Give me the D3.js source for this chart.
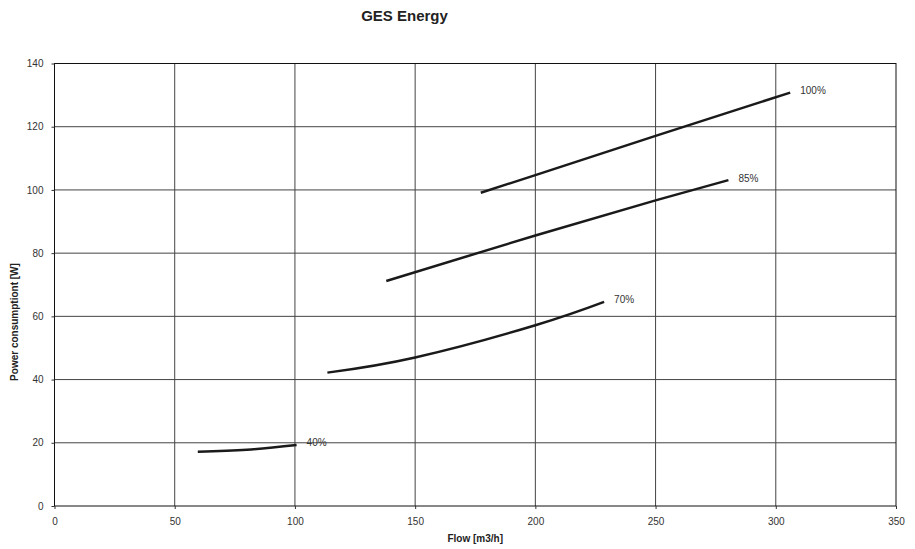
<!DOCTYPE html>
<html>
<head>
<meta charset="utf-8">
<script src="https://cdn.jsdelivr.net/npm/d3@7"></script>
<style>
  body { margin: 0; background: #fff; }
  svg { font-family: "Liberation Sans", Arial, sans-serif; }
</style>
</head>
<body>
<script>
// Data
const xTicks = [0, 50, 100, 150, 200, 250, 300, 350];
const yTicks = [0, 20, 40, 60, 80, 100, 120, 140];

const curve40 = [[59.6, 17.2], [80, 17.8], [100.7, 19.3]];
const curve70 = [[113.5, 42.2], [150, 47.0], [200, 57.2], [228.6, 64.6]];
const curve85 = [[138, 71.2], [200, 85.6], [250, 96.7], [280.3, 103.1]];
const curve100 = [[177.3, 99.1], [200, 104.7], [250, 117.1], [306, 130.8]];

const seriesNames = ["40%", "70%", "85%", "100%"];
const seriesData = [curve40, curve70, curve85, curve100];

// Set up dimensions
const W = 915, H = 549;
const margin = { top: 63.5, right: 19, bottom: 43, left: 54.5 };
const width = W - margin.left - margin.right;
const height = H - margin.top - margin.bottom;

const svg = d3.select("body")
  .append("svg")
  .attr("width", W)
  .attr("height", H);

const g = svg.append("g")
  .attr("transform", `translate(${margin.left},${margin.top})`);

const x = d3.scaleLinear().domain([0, 350]).range([0, width]);
const y = d3.scaleLinear().domain([0, 140]).range([height, 0]);

// Gridlines
g.append("g")
  .selectAll("line.v")
  .data(xTicks.slice(1, -1))
  .join("line")
  .attr("x1", d => x(d)).attr("x2", d => x(d))
  .attr("y1", 0).attr("y2", height)
  .attr("stroke", "#444").attr("stroke-width", 1);

g.append("g")
  .selectAll("line.h")
  .data(yTicks.slice(1, -1))
  .join("line")
  .attr("x1", 0).attr("x2", width)
  .attr("y1", d => y(d)).attr("y2", d => y(d))
  .attr("stroke", "#444").attr("stroke-width", 1);

// Frame
g.append("rect")
  .attr("width", width).attr("height", height)
  .attr("fill", "none").attr("stroke", "#111").attr("stroke-width", 1);

// Axes
const xAxis = g.append("g")
  .attr("transform", `translate(0,${height})`)
  .call(d3.axisBottom(x).tickValues(xTicks).tickSize(3).tickPadding(9));
const yAxis = g.append("g")
  .call(d3.axisLeft(y).tickValues(yTicks).tickSize(3).tickPadding(8));

[xAxis, yAxis].forEach(a => {
  a.select(".domain").remove();
  a.selectAll("line").attr("stroke", "#333");
  a.selectAll("text").attr("fill", "#333").style("font-size", "10px");
});

// Curves
const line = d3.line()
  .x(d => x(d[0]))
  .y(d => y(d[1]))
  .curve(d3.curveNatural);

g.selectAll("path.curve")
  .data(seriesData)
  .join("path")
  .attr("class", "curve")
  .attr("fill", "none")
  .attr("stroke", "#1a1a1a")
  .attr("stroke-width", 2.5)
  .attr("d", line);

// Curve labels at the end of each line
g.selectAll("text.lbl")
  .data(seriesData)
  .join("text")
  .attr("class", "lbl")
  .attr("x", d => x(d[d.length - 1][0]) + 10)
  .attr("y", d => y(d[d.length - 1][1]) - 2)
  .attr("dy", "0.35em")
  .attr("fill", "#333")
  .style("font-size", "10px")
  .text((d, i) => seriesNames[i]);

// Title
svg.append("text")
  .attr("x", 404.5)
  .attr("y", 21)
  .attr("text-anchor", "middle")
  .attr("fill", "#222")
  .style("font-size", "15px")
  .style("font-weight", "bold")
  .text("GES Energy");

// Axis titles
svg.append("text")
  .attr("x", margin.left + width / 2)
  .attr("y", 542)
  .attr("text-anchor", "middle")
  .attr("fill", "#222")
  .style("font-size", "10px")
  .style("font-weight", "bold")
  .text("Flow [m3/h]");

svg.append("text")
  .attr("transform", "rotate(-90)")
  .attr("x", -322)
  .attr("y", 18)
  .attr("text-anchor", "middle")
  .attr("fill", "#222")
  .style("font-size", "10px")
  .style("font-weight", "bold")
  .text("Power consumptiont [W]");
</script>
</body>
</html>
